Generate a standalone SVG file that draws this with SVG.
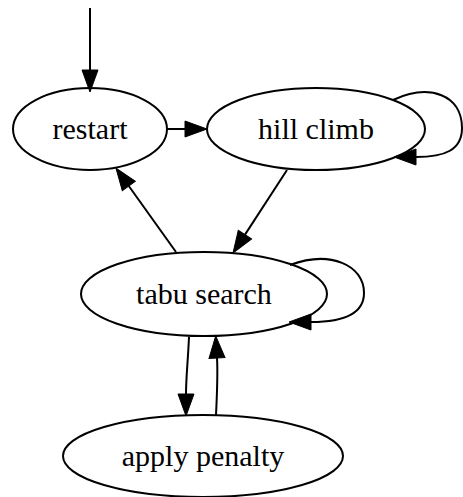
<svg xmlns="http://www.w3.org/2000/svg" width="463" height="497" viewBox="0 0 463 497">
<style>
.node ellipse{fill:none;stroke:#000;stroke-width:2}
.node text{font-family:"Liberation Serif","Times New Roman",serif;font-size:30px;text-anchor:middle;fill:#000}
.edge path{fill:none;stroke:#000;stroke-width:2}
</style>
<defs>
<marker id="ah" markerUnits="userSpaceOnUse" markerWidth="24" markerHeight="18" refX="0" refY="8" orient="auto" overflow="visible">
<path d="M0,0 L22,8 L0,16 Z" fill="#000" stroke="#000" stroke-width="1"/>
</marker>
</defs>
<rect width="463" height="497" fill="#fff"/>
<g id="edges" class="edge">
<path d="M90,8 L90,70" marker-end="url(#ah)"/>
<path d="M167,129 L185,129" marker-end="url(#ah)"/>
<path d="M287,170 L245,234.6" marker-end="url(#ah)"/>
<path d="M176,252 L128.8,186" marker-end="url(#ah)"/>
<path d="M189,337 C188,360 186,378 186,394" marker-end="url(#ah)"/>
<path d="M216,415 C217,395 218,375 217,358" marker-end="url(#ah)"/>
<path d="M393,100 C430,83 462,95 462,128 C462,150 445,157 416,157" marker-end="url(#ah)"/>
<path d="M290,265 C330,250 364,265 364,293 C364,315 340,322 311,322" marker-end="url(#ah)"/>
</g>
<g id="restart" class="node"><ellipse cx="90" cy="129" rx="77" ry="41"/><text x="90" y="139">restart</text></g>
<g id="hill_climb" class="node"><ellipse cx="316" cy="129" rx="109" ry="41"/><text x="316" y="139">hill climb</text></g>
<g id="tabu_search" class="node"><ellipse cx="204" cy="294" rx="123" ry="42"/><text x="204" y="304">tabu search</text></g>
<g id="apply_penalty" class="node"><ellipse cx="203" cy="456" rx="140" ry="41"/><text x="203" y="466">apply penalty</text></g>
</svg>
